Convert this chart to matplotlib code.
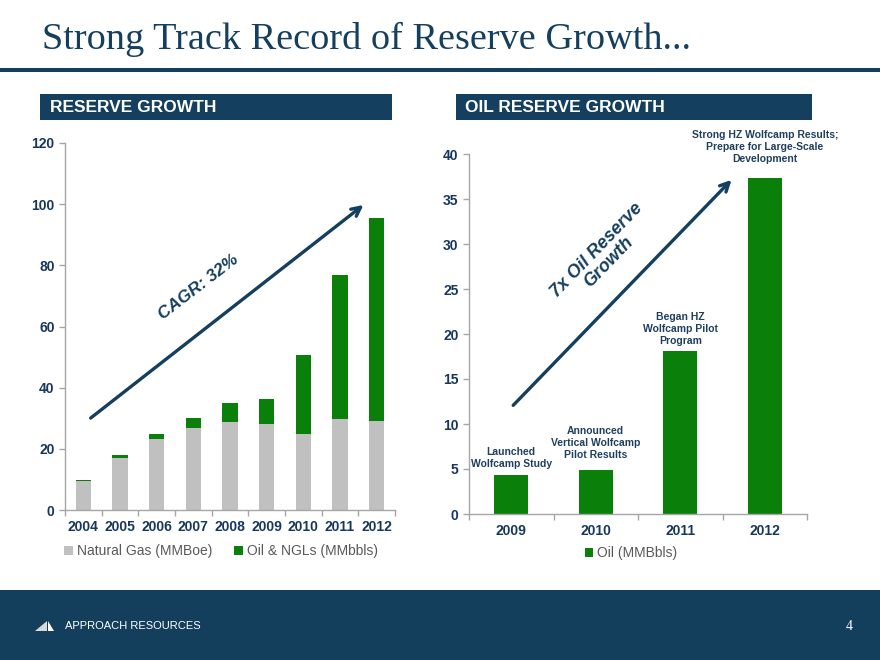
import matplotlib
matplotlib.use("Agg")
import matplotlib.pyplot as plt
from matplotlib.patches import Rectangle, Polygon
import numpy as np

# data
years_left = ["2004", "2005", "2006", "2007", "2008", "2009", "2010", "2011", "2012"]
gas = [9.4, 17.0, 23.3, 26.9, 28.7, 28.1, 25.0, 29.6, 29.1]
total = [9.9, 18.1, 24.8, 30.0, 35.1, 36.4, 50.6, 76.8, 95.4]
oil_ngl = [t - g for t, g in zip(total, gas)]

years_right = ["2009", "2010", "2011", "2012"]
oil = [4.3, 4.9, 18.1, 37.3]
notes = ["Launched\nWolfcamp Study",
         "Announced\nVertical Wolfcamp\nPilot Results",
         "Began HZ\nWolfcamp Pilot\nProgram",
         "Strong HZ Wolfcamp Results;\nPrepare for Large-Scale\nDevelopment"]
note_y = [6.2, 7.9, 20.5, 40.8]

NAVY = "#153f5e"
TICK = "#17375e"
GREEN = "#0a800a"
GREY = "#c0c0c0"
SPINE = "#a6a6a6"

plt.rcParams['font.family'] = ['Liberation Sans', 'DejaVu Sans']

W, H = 880, 660
fig = plt.figure(figsize=(8.8, 6.6), dpi=100)


def box(x0, y0, x1, y1):
    # pixel box (top-left origin) -> figure fraction rect
    return [x0 / W, 1 - y1 / H, (x1 - x0) / W, (y1 - y0) / H]


def rect(x0, y0, x1, y1, color):
    l, b, w, h = box(x0, y0, x1, y1)
    fig.patches.append(Rectangle((l, b), w, h, transform=fig.transFigure,
                                 facecolor=color, edgecolor="none", zorder=0))


# title and rule
fig.text(42 / W, 1 - 39 / H, "Strong Track Record of Reserve Growth...",
         family=["Liberation Serif", "DejaVu Serif"], fontsize=27.5, color=NAVY,
         va="center", ha="left")
rect(0, 68, W, 72, NAVY)

# section headers
rect(40, 94, 392, 120, NAVY)
rect(456, 94, 812, 120, NAVY)
fig.text(50 / W, 1 - 107 / H, "RESERVE GROWTH", color="white",
         fontsize=12.5, fontweight="bold", va="center")
fig.text(465 / W, 1 - 107 / H, "OIL RESERVE GROWTH", color="white",
         fontsize=12.5, fontweight="bold", va="center")

# footer
rect(0, 590, W, H, "#133f5c")
l0 = 35
fig.patches.append(Polygon([((l0) / W, 1 - 631 / H), ((l0 + 12) / W, 1 - 621 / H),
                            ((l0 + 12) / W, 1 - 631 / H)], closed=True,
                           transform=fig.transFigure, facecolor="#d9d9d9", edgecolor="none"))
fig.patches.append(Polygon([((l0 + 13) / W, 1 - 621 / H), ((l0 + 19) / W, 1 - 631 / H),
                            ((l0 + 13) / W, 1 - 631 / H)], closed=True,
                           transform=fig.transFigure, facecolor="white", edgecolor="none"))
fig.text(65 / W, 1 - 626 / H, "APPROACH RESOURCES", color="white", fontsize=8, va="center")
fig.text(853 / W, 1 - 626 / H, "4", color="white", fontsize=10, va="center", ha="right",
         family=["Liberation Serif", "DejaVu Serif"])


def style_axes(ax):
    for s in ["top", "right"]:
        ax.spines[s].set_visible(False)
    for s in ["left", "bottom"]:
        ax.spines[s].set_color(SPINE)
        ax.spines[s].set_linewidth(1.0)
    ax.tick_params(axis="y", colors=SPINE, labelcolor=TICK, length=4, width=1, labelsize=10)
    ax.tick_params(axis="x", which="major", length=0, labelcolor=TICK, labelsize=10, pad=7)
    ax.tick_params(axis="x", which="minor", colors=SPINE, length=4, width=1)
    for lab in ax.get_xticklabels() + ax.get_yticklabels():
        lab.set_fontweight("bold")


# left chart
ax1 = fig.add_axes(box(65, 143, 395, 510))
x1 = np.arange(len(years_left))
b_gas = ax1.bar(x1, gas, width=0.42, color=GREY, label="Natural Gas (MMBoe)")
b_oil = ax1.bar(x1, oil_ngl, width=0.42, bottom=gas, color=GREEN, label="Oil & NGLs (MMbbls)")
ax1.set_xlim(-0.5, len(years_left) - 0.5)
ax1.set_ylim(0, 120)
ax1.set_yticks(range(0, 121, 20))
ax1.set_xticks(x1)
ax1.set_xticklabels(years_left)
ax1.set_xticks(np.arange(-0.5, len(years_left), 1.0), minor=True)
style_axes(ax1)
ax1.annotate("", xy=(7.7, 100.3), xytext=(0.14, 29.5),
             arrowprops=dict(arrowstyle="->", color=NAVY, lw=2.4, mutation_scale=16))
ax1.text(3.15, 73, "CAGR: 32%", rotation=37.5, color=NAVY, fontsize=12.5,
         fontweight="bold", fontstyle="italic", ha="center", va="center")
ax1.legend(handles=[b_gas, b_oil], loc="center", bbox_to_anchor=(221 / W, 1 - 551 / H),
           bbox_transform=fig.transFigure, ncol=2, frameon=False, fontsize=10,
           handlelength=0.6, handleheight=0.6, handletextpad=0.3, columnspacing=1.6,
           labelcolor="#595959")

# right chart
ax2 = fig.add_axes(box(469, 154, 807, 514))
x2 = np.arange(len(years_right))
b_o = ax2.bar(x2, oil, width=0.4, color=GREEN, label="Oil (MMBbls)")
ax2.set_xlim(-0.5, len(years_right) - 0.5)
ax2.set_ylim(0, 40)
ax2.set_yticks(range(0, 41, 5))
ax2.set_xticks(x2)
ax2.set_xticklabels(years_right)
ax2.set_xticks(np.arange(-0.5, len(years_right), 1.0), minor=True)
style_axes(ax2)
for xi, txt, yi in zip(x2, notes, note_y):
    ax2.text(xi, yi, txt, ha="center", va="center", fontsize=7.5, fontweight="bold",
             color="#1f3f5f", linespacing=1.25, clip_on=False)
ax2.annotate("", xy=(2.63, 37.35), xytext=(0.0, 11.85),
             arrowprops=dict(arrowstyle="->", color=NAVY, lw=2.4, mutation_scale=16))
ax2.text(1.08, 28.6, "7x Oil Reserve\nGrowth", rotation=46, color=NAVY, fontsize=13,
         fontweight="bold", fontstyle="italic", ha="center", va="center",
         linespacing=1.0, rotation_mode="anchor")
ax2.legend(handles=[b_o], loc="center", bbox_to_anchor=(631 / W, 1 - 553 / H),
           bbox_transform=fig.transFigure, frameon=False, fontsize=10,
           handlelength=0.6, handleheight=0.6, handletextpad=0.3, labelcolor="#595959")

fig.savefig("out.png", dpi=100)
